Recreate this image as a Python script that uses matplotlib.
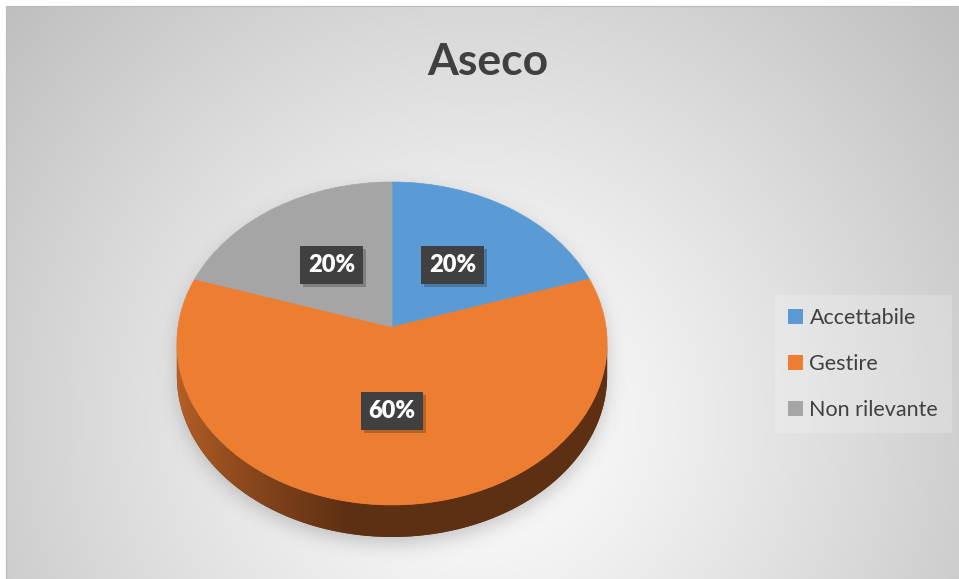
import numpy as np
import matplotlib
matplotlib.use("Agg")
import matplotlib.pyplot as plt
from matplotlib.transforms import Transform, IdentityTransform
from matplotlib.patches import Polygon, Patch, Rectangle
from matplotlib.path import Path

# ---------------- data ----------------
title = "Aseco"
categories = ["Accettabile", "Gestire", "Non rilevante"]
values = [20, 60, 20]
colors = ["#5B9BD5", "#ED7D31", "#A5A5A5"]

plt.rcParams['font.family'] = ['Lato', 'DejaVu Sans']

W, H = 959, 579
fig = plt.figure(figsize=(W / 100, H / 100), dpi=100)
ax = fig.add_axes([0, 0, 1, 1])

# ---------------- pie geometry (layout) ----------------
CX, CY = 392.0, 327.0      # apex of the pie on screen (pixels, y down)
SX, SY = 214.0, 159.8      # horizontal / vertical scale
A = 0.102                  # perspective factor
DEPTH = 32.0               # thickness of the pie


class Persp(Transform):
    input_dims = 2
    output_dims = 2
    is_separable = False
    has_inverse = False

    def transform_non_affine(self, v):
        v = np.asarray(v, float)
        x, y = v[..., 0], v[..., 1]
        d = 1 + A * y
        return np.stack([CX + SX * x / d, CY - SY * y / d], axis=-1)


persp = Persp()


def project(x, y):
    return persp.transform_non_affine(np.column_stack([x, y]))


# ---------------- background ----------------
yy, xx = np.mgrid[0:H, 0:W] + 0.5
d = np.hypot(xx - 480, yy - 420) / 640.0
g = 255 - 66 * np.clip(d, 0, 1.2) ** 1.15
bg = np.repeat(g[..., None], 3, axis=2) / 255.0
inside = (xx >= 6) & (yy >= 6)
bg[~inside] = 1.0
ax.imshow(bg, extent=(0, W, H, 0), origin="upper", interpolation="bilinear", zorder=0)
ax.plot([6, 6, W], [H, 6, 6], color="#bdbdbd", linewidth=0.9, zorder=0.5)

# ---------------- silhouette + shadow ----------------
t_full = np.linspace(0, 2 * np.pi, 400)
top_ell = project(np.cos(t_full), np.sin(t_full))
t0 = np.pi + np.arcsin(A)
t1 = 2 * np.pi - np.arcsin(A)
t_front = np.linspace(t0, t1, 300)
front = project(np.cos(t_front), np.sin(t_front))
lower = front + np.array([0, DEPTH])
side_pts = np.vstack([front, lower[::-1]])

x0, x1, y0, y1 = 120, 680, 140, 590
gy, gx = np.mgrid[y0:y1, x0:x1] + 0.5
pts = np.column_stack([gx.ravel(), gy.ravel() - 7])
mask = Path(top_ell).contains_points(pts) | Path(side_pts).contains_points(pts)
mask = mask.reshape(gx.shape).astype(float)
sig = 9.0
k = np.arange(-30, 31)
ker = np.exp(-0.5 * (k / sig) ** 2)
ker /= ker.sum()
blur = np.apply_along_axis(lambda r: np.convolve(r, ker, mode="same"), 1, mask)
blur = np.apply_along_axis(lambda c: np.convolve(c, ker, mode="same"), 0, blur)
shadow = np.zeros(gx.shape + (4,))
shadow[..., :3] = 0.45
shadow[..., 3] = 0.36 * blur
ax.imshow(shadow, extent=(x0, x1, y1, y0), origin="upper", interpolation="bilinear", zorder=1)

# ---------------- pie side (orange) ----------------
side_poly = Polygon(side_pts, closed=True, facecolor="#5f3114", edgecolor="none", zorder=2)
ax.add_patch(side_poly)
sx = np.linspace(170, 620, 450)
f = np.clip((sx - 178) / 170.0, 0, 1) ** 0.8
c_left = np.array([182, 95, 38]) / 255.0
c_right = np.array([94, 48, 19]) / 255.0
grad = c_left[None, :] * (1 - f[:, None]) + c_right[None, :] * f[:, None]
grad_img = np.repeat(grad[None, :, :], 10, axis=0)
im = ax.imshow(grad_img, extent=(170, 620, 560, 250), origin="upper", interpolation="bilinear", zorder=2.1)
im.set_clip_path(side_poly)

# ---------------- pie top ----------------
LBL_FS = 17
wedges, texts, autotexts = ax.pie(
    values, colors=colors, startangle=90, counterclock=False,
    autopct=lambda p: f"{p:.0f}%", pctdistance=0.5, radius=1.0,
    wedgeprops=dict(linewidth=0.5),
    textprops=dict(color="white", fontsize=LBL_FS, fontweight="bold"))
for w, c in zip(wedges, colors):
    w.set_transform(persp + ax.transData)
    w.set_edgecolor(c)
    w.set_zorder(3)
for t in texts:
    t.remove()
for t in autotexts:
    t.set_transform(persp + ax.transData)
    t.set_zorder(6)
    t.set_fontweight("heavy")
    t.set_bbox(dict(boxstyle="square,pad=0.33", facecolor="#404040", edgecolor="none"))

ax.set_aspect("auto")
ax.set_xlim(0, W)
ax.set_ylim(H, 0)
ax.axis("off")

# ---------------- title ----------------
fig.text(488 / W, 1 - 75 / H, title, ha="center", va="baseline",
         fontsize=32, fontweight="bold", color="#404040")

# ---------------- legend ----------------
handles = [Patch(facecolor=c, edgecolor="none") for c in colors]
leg = fig.legend(handles, categories, loc="center left",
                 bbox_to_anchor=(775 / W, 1 - 364 / H),
                 fontsize=15.5, handlelength=0.66, handleheight=0.66,
                 handletextpad=0.32, labelspacing=1.2, borderpad=0.62,
                 borderaxespad=0, frameon=True, fancybox=False,
                 labelcolor="#404040")
leg.get_frame().set_facecolor("white")
leg.get_frame().set_alpha(0.2)
leg.get_frame().set_edgecolor("none")

# ---------------- soft drop shadows behind the label boxes ----------------
fig.canvas.draw()
for t in autotexts:
    bb = t.get_bbox_patch().get_window_extent()
    ax.add_patch(Rectangle((bb.x0 + 3, bb.y0 - 3), bb.width, bb.height,
                           transform=IdentityTransform(), facecolor=(0, 0, 0, 0.22),
                           edgecolor="none", zorder=5))

fig.savefig("out.png", dpi=100)
